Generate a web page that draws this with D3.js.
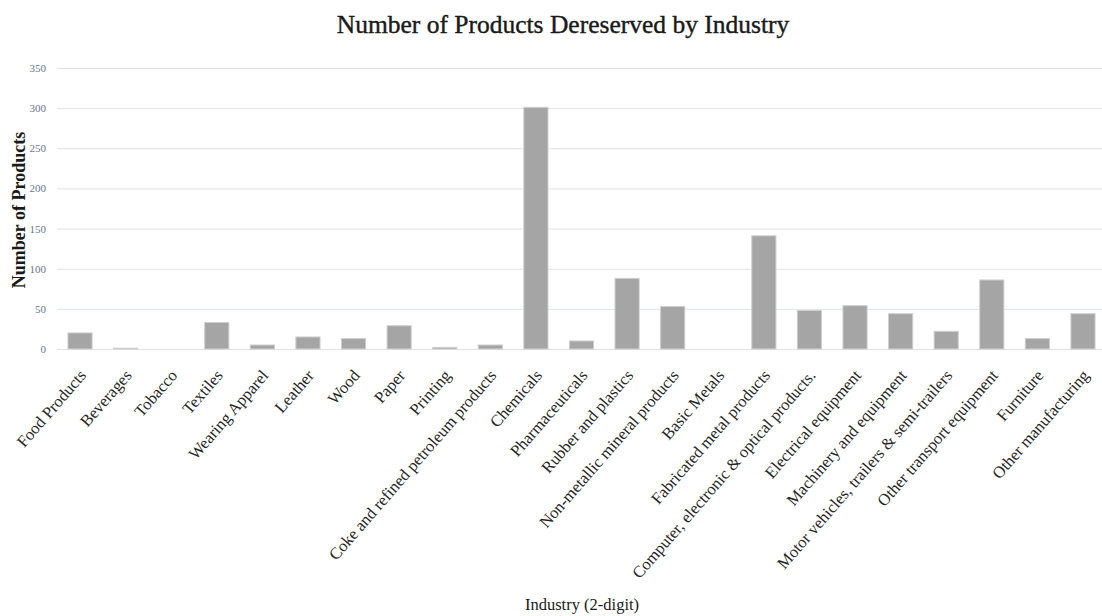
<!DOCTYPE html>
<html>
<head>
<meta charset="utf-8">
<script src="https://cdn.jsdelivr.net/npm/d3@7"></script>
<style>
  body { margin: 0; background: #fff; }
  svg { display: block; font-family: "Liberation Serif", "DejaVu Serif", serif; }
</style>
</head>
<body>
<div id="chart"></div>
<script>
// data
const industries = [
  "Food Products", "Beverages", "Tobacco", "Textiles", "Wearing Apparel",
  "Leather", "Wood", "Paper", "Printing", "Coke and refined petroleum products",
  "Chemicals", "Pharmaceuticals", "Rubber and plastics", "Non-metallic mineral products",
  "Basic Metals", "Fabricated metal products", "Computer, electronic & optical products.",
  "Electrical equipment", "Machinery and equipment", "Motor vehicles, trailers & semi-trailers",
  "Other transport equipment", "Furniture", "Other manufacturing"
];
const products = [20, 1, 0, 33, 5, 15, 13, 29, 2, 5, 301, 10, 88, 53, 0, 141, 48, 54, 44, 22, 86, 13, 44];
const yTicks = [0, 50, 100, 150, 200, 250, 300, 350];

const width = 1102, height = 616;
const margin = { top: 68, right: 0, bottom: 267, left: 57 };

const svg = d3.select("#chart")
  .append("svg")
  .attr("width", width)
  .attr("height", height);

const x = d3.scaleBand()
  .domain(industries)
  .range([margin.left, 1106])
  .paddingInner(0.47)
  .paddingOuter(0.24);

const y = d3.scaleLinear()
  .domain([0, 350])
  .range([height - margin.bottom, margin.top]);

// gridlines + tick labels
const yAxis = d3.axisLeft(y)
  .tickValues(yTicks)
  .tickSize(-(width - margin.left))
  .tickPadding(11)
  .tickFormat(d3.format("d"));

const gy = svg.append("g")
  .attr("transform", `translate(${margin.left},0)`)
  .call(yAxis);
gy.select(".domain").remove();
gy.selectAll(".tick line").attr("stroke", "#dfe2ea").attr("stroke-width", 1);
gy.selectAll(".tick text")
  .attr("fill", "#6a7590")
  .style("font-size", "11px")
  .style("font-family", "Liberation Serif, serif");

// bars
svg.selectAll("rect.bar")
  .data(products)
  .enter()
  .append("rect")
  .attr("class", "bar")
  .attr("x", (d, i) => x(industries[i]))
  .attr("y", (d) => y(d))
  .attr("width", x.bandwidth())
  .attr("height", (d) => y(0) - y(d))
  .attr("fill", "#a5a5a5")
  .attr("stroke", (d) => d > 0 ? "#cfcfcf" : "none")
  .attr("stroke-width", 1);

// category labels, rotated
svg.append("g")
  .selectAll("text")
  .data(industries)
  .enter()
  .append("text")
  .attr("transform", (d) => `translate(${x(d) + x.bandwidth() / 2 + 7},${y(0) + 27}) rotate(-49)`)
  .attr("text-anchor", "end")
  .attr("fill", "#262626")
  .style("font-size", "16.5px")
  .text((d) => d);

// title
svg.append("text")
  .attr("x", 563)
  .attr("y", 33)
  .attr("text-anchor", "middle")
  .attr("fill", "#1a1a1a")
  .attr("stroke", "#1a1a1a")
  .attr("stroke-width", 0.4)
  .style("font-size", "25.5px")
  .text("Number of Products Dereserved by Industry");

// axis titles
svg.append("text")
  .attr("transform", `translate(25,210) rotate(-90)`)
  .attr("text-anchor", "middle")
  .attr("fill", "#1a1a1a")
  .style("font-size", "18px")
  .style("font-weight", "bold")
  .text("Number of Products");

svg.append("text")
  .attr("x", 582)
  .attr("y", 610)
  .attr("text-anchor", "middle")
  .attr("fill", "#1a1a1a")
  .style("font-size", "16.5px")
  .text("Industry (2-digit)");
</script>
</body>
</html>
